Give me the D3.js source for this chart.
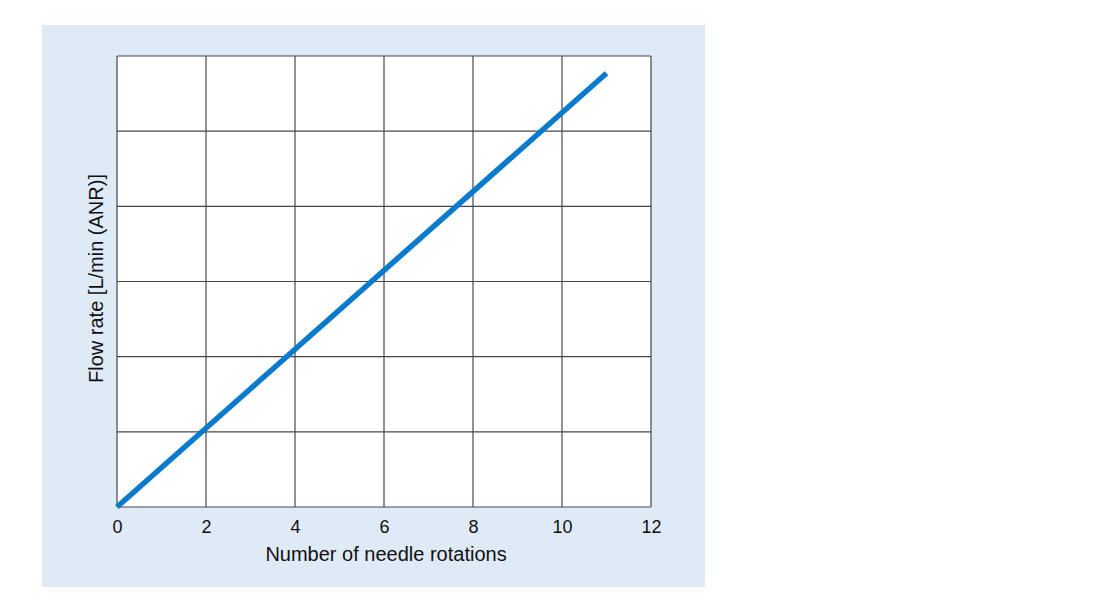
<!DOCTYPE html>
<html><head><meta charset="utf-8">
<script src="https://cdn.jsdelivr.net/npm/d3@7"></script>
<style>body{margin:0;background:#fff;}svg{display:block;font-family:"Liberation Sans",Arial,sans-serif;}</style>
</head><body>
<svg id="c" width="1100" height="616"></svg>
<script>
const xTicks = [0, 2, 4, 6, 8, 10, 12];
const yGrid = [0, 1, 2, 3, 4, 5, 6];
const rotations = [0, 11];
const flow = [0, 5.77];
const xTitle = "Number of needle rotations";
const yTitle = "Flow rate [L/min (ANR)]";

const svg = d3.select("#c");
svg.append("rect").attr("x", 42).attr("y", 25).attr("width", 663).attr("height", 562).attr("fill", "#dfeaf7");
const m = {l: 117, t: 56, r: 651, b: 507};
const x = d3.scaleLinear().domain([0, 12]).range([m.l, m.r]);
const y = d3.scaleLinear().domain([0, 6]).range([m.b, m.t]);
svg.append("rect").attr("x", m.l).attr("y", m.t).attr("width", m.r - m.l).attr("height", m.b - m.t).attr("fill", "#fff");
const g = svg.append("g");
g.selectAll(".vx").data(xTicks).join("line").attr("x1", d => x(d)).attr("x2", d => x(d)).attr("y1", m.t).attr("y2", m.b).attr("stroke", "#4a4646").attr("stroke-width", 1.2);
g.selectAll(".hy").data(yGrid).join("line").attr("y1", d => y(d)).attr("y2", d => y(d)).attr("x1", m.l).attr("x2", m.r).attr("stroke", "#4a4646").attr("stroke-width", 1.2);
const xa = svg.append("g").attr("transform", `translate(0,${m.b})`).call(d3.axisBottom(x).tickValues(xTicks).tickSize(0).tickPadding(13));
xa.select(".domain").remove();
xa.attr("font-size", 18).attr("font-family", "Liberation Sans, Arial, sans-serif");
xa.selectAll("text").style("font-size", "18px").attr("fill", "#111");
const ya = svg.append("g").attr("transform", `translate(${m.l},0)`).call(d3.axisLeft(y).tickValues(yGrid).tickSize(0).tickFormat(""));
ya.select(".domain").remove();
const pts = rotations.map((r, i) => [r, flow[i]]);
svg.append("path").datum(pts).attr("d", d3.line().x(d => x(d[0])).y(d => y(d[1]))).attr("fill", "none").attr("stroke", "#0a7bcc").attr("stroke-width", 5.5);
svg.append("text").attr("x", (m.l + m.r) / 2 + 2).attr("y", 561).attr("text-anchor", "middle").style("font-size", "20px").attr("fill", "#111").text(xTitle);
svg.append("text").attr("transform", `translate(103,${(m.t + m.b) / 2 - 3}) rotate(-90)`).attr("text-anchor", "middle").style("font-size", "20px").attr("fill", "#111").text(yTitle);
</script>
</body></html>
